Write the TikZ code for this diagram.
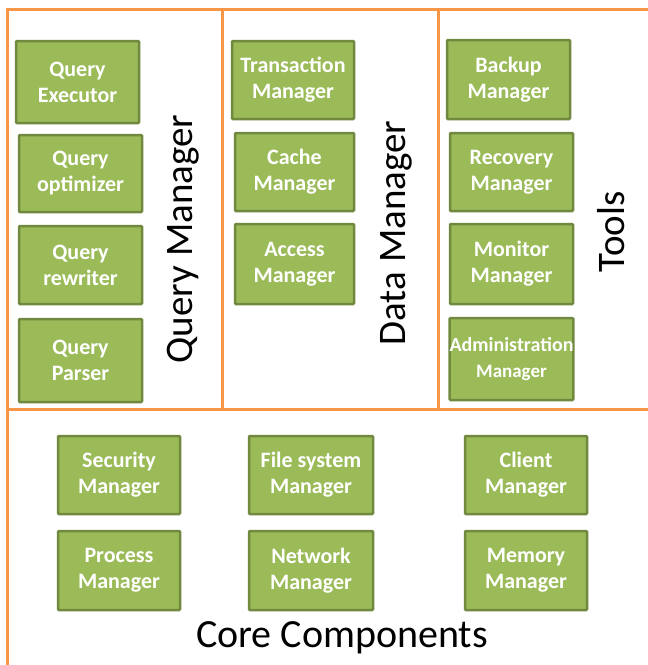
\documentclass[tikz,border=0pt]{standalone}
\usepackage{fontspec}
\setmainfont{Carlito}
\definecolor{boxfill}{HTML}{9BBB59}
\definecolor{boxline}{HTML}{71893F}
\definecolor{frame}{HTML}{F79646}
\begin{document}
\begin{tikzpicture}[x=1pt,y=-1pt,
  comp/.style={draw=boxline,line width=2.5pt,fill=boxfill,rounded corners=1pt,
    text=white,font=\fontsize{22}{26}\selectfont\bfseries,align=center,inner sep=0pt},
  grp/.style={font=\fontsize{39}{42}\selectfont,text=black},
  sep/.style={draw=frame,line width=3pt}]
\useasboundingbox (0,0) rectangle (648,665);
\fill[white] (0,0) rectangle (648,665);
% frame
\draw[sep] (7,665) -- (7,9) -- (648,9);
\draw[sep] (222,9) -- (222,409);
\draw[sep] (438,9) -- (438,409);
\draw[sep] (7,409) -- (648,409);
\newcommand{\compbox}[6]{\node[comp,minimum width=#3-#1,minimum height=#4-#2] (#5) at ({(#1+#3)/2},{(#2+#4)/2+1}) {#6};}
% Query column
\compbox{16}{40}{139}{122}{qe}{Query\\Executor}
\compbox{19}{134}{142}{211}{qo}{Query\\optimizer}
\compbox{19}{225}{142}{303}{qr}{Query\\rewriter}
\compbox{19}{318}{142}{401}{qp}{Query\\Parser}
\node[grp,rotate=90] (qm) at (183,239) {Query Manager};
% Data column
\compbox{232}{40}{354}{118}{tm}{Transaction\\Manager}
\compbox{235}{132}{354}{210}{cm}{Cache\\Manager}
\compbox{235}{223}{354}{303}{am}{Access\\Manager}
\node[grp,rotate=90] (dm) at (396,233) {Data Manager};
% Tools column
\compbox{447}{39}{570}{118}{bm}{Backup\\Manager}
\compbox{450}{132}{573}{210}{rm}{Recovery\\Manager}
\compbox{450}{223}{573}{303}{mm}{Monitor\\Manager}
\compbox{450}{317}{573}{399}{adm}{\fontsize{20}{26}\selectfont Administration\\\fontsize{19}{26}\selectfont Manager}
\node[grp,rotate=90] (tl) at (611,232) {Tools};
% Core
\compbox{58}{435}{180}{513}{sm}{Security\\Manager}
\compbox{58}{530}{180}{609}{pm}{Process\\Manager}
\compbox{249}{435}{373}{513}{fm}{File system\\Manager}
\compbox{249}{530}{373}{609}{nm}{Network\\Manager}
\compbox{465}{435}{587}{513}{clm}{Client\\Manager}
\compbox{465}{530}{587}{609}{mem}{Memory\\Manager}
\node[grp,font=\fontsize{40}{42}\selectfont] (cc) at (342,638) {Core Components};
\end{tikzpicture}
\end{document}
